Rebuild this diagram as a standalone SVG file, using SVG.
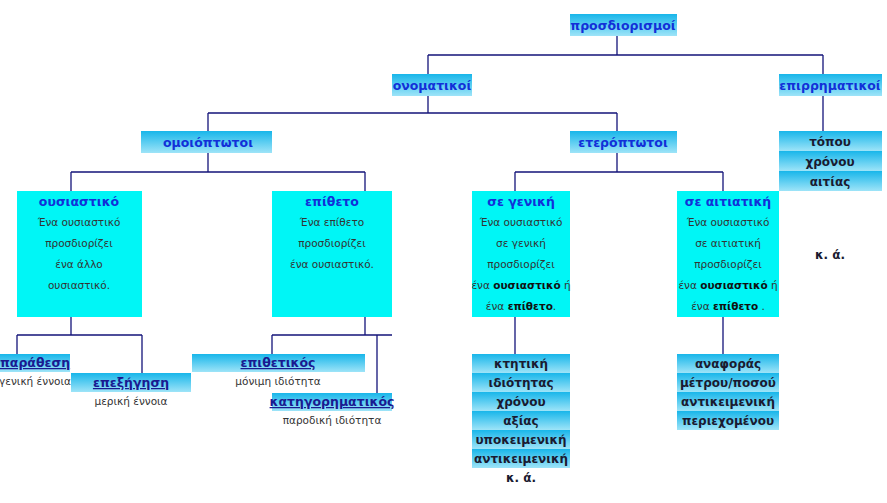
<svg xmlns="http://www.w3.org/2000/svg" width="887" height="503" viewBox="0 0 887 503">
<defs>
<linearGradient id="g" x1="0" y1="0" x2="0" y2="1"><stop offset="0" stop-color="#18b6ea"/><stop offset="1" stop-color="#9ee4f8"/></linearGradient>
<style>
.c{fill:url(#g)}
.q{fill:#00f6f6}
.h{font-family:"DejaVu Sans",sans-serif;font-weight:bold;font-size:12.5px;fill:#1230d8;text-anchor:middle}
.u{font-family:"DejaVu Sans",sans-serif;font-weight:bold;font-size:12.5px;fill:#1a1a90;text-anchor:middle;text-decoration:underline}
.i{font-family:"DejaVu Sans",sans-serif;font-weight:bold;font-size:12px;fill:#1a1a30;text-anchor:middle}
.t{font-family:"DejaVu Sans",sans-serif;font-size:10.5px;fill:#333;text-anchor:middle}
.tb{font-weight:bold;fill:#111}
.l{stroke:#14147a;stroke-width:1.3;fill:none}
</style>
</defs>
<rect width="887" height="503" fill="#fff"/>
<g id="connectors" class="l">
<path d="M617 36V55M428 55H823M428 55V74M823 55V74"/>
<path d="M428 96V113M208 113H617M208 113V131M617 113V131"/>
<path d="M208 153V172M71 172H365M71 172V191M365 172V191"/>
<path d="M617 153V172M515 172H723M515 172V191M723 172V191"/>
<path d="M823 96V131"/>
<path d="M71 317V335M17 335H142M17 335V354M142 335V373"/>
<path d="M365 317V335M272 335H392M272 335V354M377 335V393"/>
<path d="M515 317V354M723 317V354"/>
</g>
<g id="root"><rect class="c" x="570" y="14" width="107" height="22"/><text class="h" x="623" y="30">προσδιορισμοί</text></g>
<g id="onomatikoi"><rect class="c" x="392" y="74" width="80" height="22"/><text class="h" x="432" y="90">ονοματικοί</text></g>
<g id="epirrimatikoi"><rect class="c" x="779" y="74" width="103" height="22"/><text class="h" x="830" y="90">επιρρηματικοί</text></g>
<g id="omoioptotoi"><rect class="c" x="141" y="131" width="131" height="22"/><text class="h" x="208" y="147">ομοιόπτωτοι</text></g>
<g id="eteroptotoi"><rect class="c" x="570" y="131" width="107" height="22"/><text class="h" x="623" y="147">ετερόπτωτοι</text></g>
<g id="epirr-list">
<rect class="c" x="779" y="131" width="103" height="20"/><rect class="c" x="779" y="151" width="103" height="20"/><rect class="c" x="779" y="171" width="103" height="20"/>
<text class="i" x="830" y="146">τόπου</text><text class="i" x="830" y="166">χρόνου</text><text class="i" x="830" y="186">αιτίας</text>
<text class="i" x="830" y="259">κ. ά.</text>
</g>
<g id="ousiastiko"><rect class="q" x="17" y="191" width="125" height="126"/>
<text class="h" x="79" y="206">ουσιαστικό</text>
<text class="t" x="79" y="226">Ένα ουσιαστικό</text><text class="t" x="79" y="247">προσδιορίζει</text><text class="t" x="79" y="268">ένα άλλο</text><text class="t" x="79" y="289">ουσιαστικό.</text></g>
<g id="epitheto"><rect class="q" x="272" y="191" width="120" height="126"/>
<text class="h" x="332" y="206">επίθετο</text>
<text class="t" x="332" y="226">Ένα επίθετο</text><text class="t" x="332" y="247">προσδιορίζει</text><text class="t" x="332" y="268">ένα ουσιαστικό.</text></g>
<g id="genik"><rect class="q" x="472" y="191" width="98" height="126"/>
<text class="h" x="521" y="206">σε γενική</text>
<text class="t" x="521" y="226">Ένα ουσιαστικό</text><text class="t" x="521" y="247">σε γενική</text><text class="t" x="521" y="268">προσδιορίζει</text>
<text class="t" x="521" y="289">ένα <tspan class="tb">ουσιαστικό</tspan> ή</text><text class="t" x="521" y="310">ένα <tspan class="tb">επίθετο</tspan>.</text></g>
<g id="aitiatiki"><rect class="q" x="677" y="191" width="102" height="126"/>
<text class="h" x="728" y="206">σε αιτιατική</text>
<text class="t" x="728" y="226">Ένα ουσιαστικό</text><text class="t" x="728" y="247">σε αιτιατική</text><text class="t" x="728" y="268">προσδιορίζει</text>
<text class="t" x="728" y="289">ένα <tspan class="tb">ουσιαστικό</tspan> ή</text><text class="t" x="728" y="310">ένα <tspan class="tb">επίθετο</tspan> .</text></g>
<g id="parathesi"><rect class="c" x="0" y="354" width="70" height="18"/><text class="u" x="35" y="367">παράθεση</text><text class="t" x="35" y="385">γενική έννοια</text></g>
<g id="epexigisi"><rect class="c" x="71" y="373" width="120" height="19"/><text class="u" x="131" y="387">επεξήγηση</text><text class="t" x="131" y="405">μερική έννοια</text></g>
<g id="epithetikos"><rect class="c" x="192" y="354" width="173" height="18"/><text class="u" x="278" y="367">επιθετικός</text><text class="t" x="278" y="385">μόνιμη ιδιότητα</text></g>
<g id="katigor"><rect class="c" x="272" y="393" width="120" height="18"/><text class="u" x="332" y="406">κατηγορηματικός</text><text class="t" x="332" y="424">παροδική ιδιότητα</text></g>
<g id="genik-list">
<rect class="c" x="472" y="354" width="98" height="19"/><rect class="c" x="472" y="373" width="98" height="19"/><rect class="c" x="472" y="392" width="98" height="19"/><rect class="c" x="472" y="411" width="98" height="19"/><rect class="c" x="472" y="430" width="98" height="19"/><rect class="c" x="472" y="449" width="98" height="19"/>
<text class="i" x="521" y="368">κτητική</text><text class="i" x="521" y="387">ιδιότητας</text><text class="i" x="521" y="406">χρόνου</text><text class="i" x="521" y="425">αξίας</text><text class="i" x="521" y="444">υποκειμενική</text><text class="i" x="521" y="463">αντικειμενική</text>
<text class="i" x="521" y="482">κ. ά.</text>
</g>
<g id="aitiat-list">
<rect class="c" x="677" y="354" width="102" height="19"/><rect class="c" x="677" y="373" width="102" height="19"/><rect class="c" x="677" y="392" width="102" height="19"/><rect class="c" x="677" y="411" width="102" height="19"/>
<text class="i" x="728" y="368">αναφοράς</text><text class="i" x="728" y="387">μέτρου/ποσού</text><text class="i" x="728" y="406">αντικειμενική</text><text class="i" x="728" y="425">περιεχομένου</text>
</g>
</svg>
